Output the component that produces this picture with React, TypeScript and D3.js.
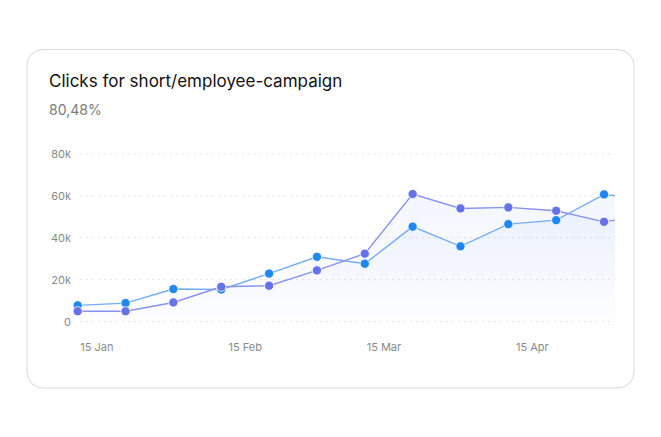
import React from "react";
import * as d3 from "d3";

// Ten-day buckets of click counts
const dates = [
  "2024-01-11", "2024-01-21", "2024-01-31", "2024-02-10", "2024-02-20",
  "2024-03-01", "2024-03-11", "2024-03-21", "2024-03-31", "2024-04-10",
  "2024-04-20", "2024-04-30", "2024-05-10",
];
const clicksTotal = [7700, 8800, 15500, 15300, 22900, 30900, 27600, 45300, 35900, 46500, 48400, 60700, 57800];
const clicksUnique = [4900, 4900, 9100, 16600, 17100, 24400, 32400, 60900, 54000, 54500, 52900, 47600, 51200];
const yTicks = [0, 20000, 40000, 60000, 80000];
const xTickDates = ["2024-01-15", "2024-02-15", "2024-03-15", "2024-04-15"];

const W = 661;
const H = 437;
const font = "Inter, 'Noto Sans', sans-serif";

const parse = d3.timeParse("%Y-%m-%d");

const series = [
  { key: "total", values: clicksTotal, line: "#74acf4", dot: "#1f87f1" },
  { key: "unique", values: clicksUnique, line: "#8792ee", dot: "#6673e8" },
];

const App: React.FC = () => {
  const plotLeft = 80;
  const plotRight = 615;
  const days = dates.map((d) => parse(d) as Date);

  const x = d3
    .scaleTime()
    .domain([days[0], days[days.length - 1]])
    .range([77.7, 77.7 + 47.85 * (days.length - 1)]);

  const y = d3.scaleLinear().domain([0, 80000]).range([321.5, 154]);

  const line = d3
    .line<number>()
    .x((_, i) => x(days[i]))
    .y((v) => y(v));

  const area = d3
    .area<number>()
    .x((_, i) => x(days[i]))
    .y0(y(0))
    .y1((v) => y(v));

  const fmt = (v: number) => (v === 0 ? "0" : `${v / 1000}k`);
  const tickFmt = d3.timeFormat("%-d %b");

  return (
    <svg
      width={W}
      height={H}
      style={{ position: "absolute", left: 0, top: 0, background: "#fff" }}
    >
      <defs>
        <clipPath id="plot-clip">
          <rect x={60} y={130} width={plotRight - 60} height={200} />
        </clipPath>
        <linearGradient
          id="area-fill"
          gradientUnits="userSpaceOnUse"
          x1={0}
          x2={0}
          y1={y(60000)}
          y2={y(0) + 6}
        >
          <stop offset="0%" stopColor="#6a94f0" stopOpacity={0.08} />
          <stop offset="100%" stopColor="#6a94f0" stopOpacity={0} />
        </linearGradient>
      </defs>

      <rect
        x={27}
        y={49.5}
        width={607}
        height={338.5}
        rx={16}
        fill="#fff"
        stroke="#d9d9dc"
        strokeWidth={1}
      />

      <text x={49} y={87} fontFamily={font} fontSize={17} fill="#111">
        Clicks for short/employee-campaign
      </text>
      <text x={49} y={115} fontFamily={font} fontSize={14} fill="#7a7a7a">
        80,48%
      </text>

      {/* horizontal grid + y labels */}
      {yTicks.map((t) => (
        <g key={t}>
          <line
            x1={plotLeft}
            x2={plotRight}
            y1={y(t)}
            y2={y(t)}
            stroke="#e3e5ea"
            strokeDasharray="2 4"
          />
          <text
            x={71}
            y={y(t) + 4}
            textAnchor="end"
            fontFamily={font}
            fontSize={11}
            fill="#8a8a8a"
          >
            {fmt(t)}
          </text>
        </g>
      ))}

      {xTickDates.map((d) => {
        const dt = parse(d) as Date;
        return (
          <text
            key={d}
            x={x(dt)}
            y={351}
            textAnchor="middle"
            fontFamily={font}
            fontSize={11}
            fill="#8a8a8a"
          >
            {tickFmt(dt)}
          </text>
        );
      })}

      <g clipPath="url(#plot-clip)">
        {series.map((s) => (
          <path key={`a-${s.key}`} d={area(s.values) ?? ""} fill="url(#area-fill)" />
        ))}
        {series.map((s) => (
          <path
            key={`l-${s.key}`}
            d={line(s.values) ?? ""}
            fill="none"
            stroke={s.line}
            strokeWidth={1.4}
          />
        ))}
      </g>

      {series.map((s) =>
        s.values.map((v, i) =>
          x(days[i]) > plotRight ? null : (
            <circle
              key={`${s.key}-${i}`}
              cx={x(days[i])}
              cy={y(v)}
              r={4.6}
              fill={s.dot}
              stroke="#fff"
              strokeWidth={0.8}
            />
          )
        )
      )}
    </svg>
  );
};

export default App;
